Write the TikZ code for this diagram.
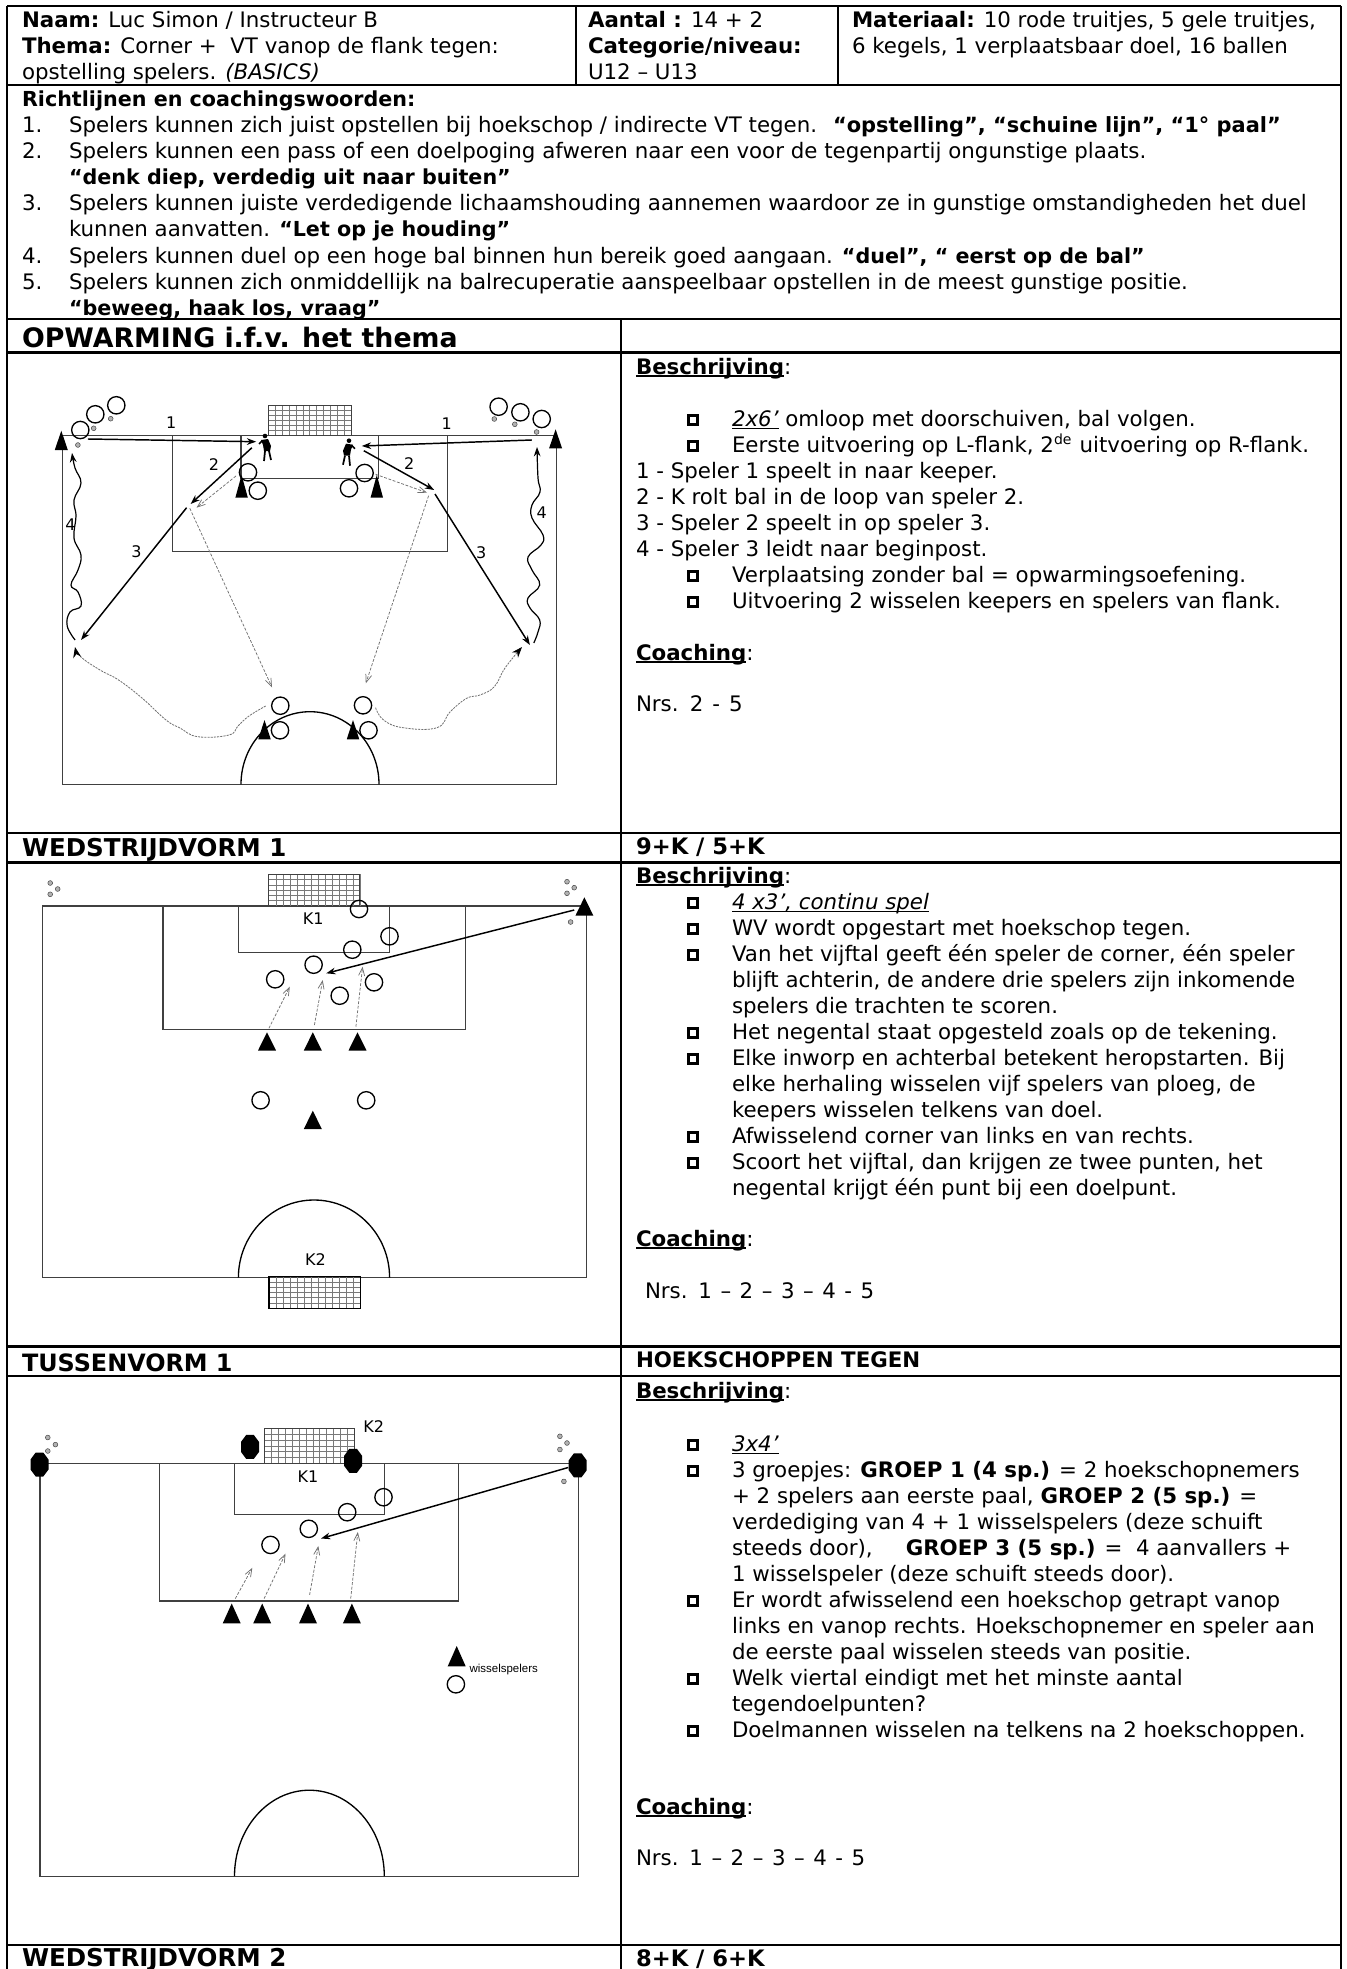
\documentclass[tikz,border=0pt]{standalone}
\usepackage{fontspec}
\setmainfont{DejaVu Sans}
\newfontfamily\smallfam{Liberation Sans}
\usetikzlibrary{arrows.meta}
\definecolor{fieldc}{HTML}{404040}
\definecolor{dashc}{HTML}{707070}
\newcounter{tn}
\newcommand{\bodysz}{\fontsize{16}{18}\selectfont}
\newcommand{\headsz}{\fontsize{20.1}{24}\selectfont}
\newcommand{\secsz}{\fontsize{18.4}{22}\selectfont}
\newcommand{\tussz}{\fontsize{17.9}{22}\selectfont}
\newcommand{\midsz}{\fontsize{17}{20}\selectfont}
\newcommand{\rb}[1]{{\fontsize{15.5}{18}\selectfont\bfseries #1}}
\newcommand{\ulb}[1]{\setbox0\hbox{\bfseries #1}\rlap{\rule[-2.1pt]{\wd0}{1.2pt}}\box0\relax}
\newcommand{\uli}[1]{\setbox0\hbox{\itshape #1}\rlap{\rule[-2pt]{\wd0}{.8pt}}\box0\relax}
\tikzset{
  txt/.style={anchor=base west,inner sep=0pt,outer sep=0pt,font=\bodysz,text=black},
  heading/.style={txt,font=\secsz\bfseries},
  lab/.style={anchor=center,inner sep=0pt,font=\fontsize{12}{14}\selectfont,text=black},
  bulbox/.style={draw=black,line width=2.2pt,fill=white,minimum width=7.4pt,minimum height=7.4pt,inner sep=0pt,anchor=center},
  plr/.style={circle,draw=black,line width=1pt,minimum size=13pt,inner sep=0pt,fill=none},
  rule/.style={draw=black,line width=1.6pt},
  pitch/.style={draw=fieldc,line width=1pt},
  arcl/.style={draw=black,line width=1pt},
  net/.style={draw=fieldc!70,line width=.45pt},
  pass/.style={draw=black,line width=1.1pt,-{Stealth[length=7pt,width=5pt]}},
  run/.style={draw=dashc,line width=.55pt,dash pattern=on 2.2pt off 1.2pt,-{Straight Barb[length=6pt,width=4.5pt]}},
  drib/.style={draw=black,line width=.9pt,-{Stealth[length=7pt,width=5pt]}},
  dribrun/.style={draw=dashc,line width=.6pt,dash pattern=on 1.6pt off .8pt,-{Stealth[length=8pt,width=6pt,color=black,fill=black]}},
  ball/.style={circle,draw=fieldc,line width=.35pt,minimum size=3.6pt,inner sep=0pt,fill=gray!60},
}
\newcommand{\tx}[4][]{\stepcounter{tn}\node[txt,#1] (t\arabic{tn}) at (#2,#3) {#4};}
\newcommand{\bl}[2]{\stepcounter{tn}\node[bulbox] (b\arabic{tn}) at (693,#1-6) {};\node[txt] (t\arabic{tn}) at (732,#1) {#2};}
\newcommand{\goalnet}[6]{% x1 y1 x2 y2 cols rows
  \foreach \i in {1,...,#5} \draw[net] ({#1+(#3-#1)*\i/#5},#2) -- ({#1+(#3-#1)*\i/#5},#4);
  \foreach \i in {1,...,#6} \draw[net] (#1,{#2+(#4-#2)*\i/#6}) -- (#3,{#2+(#4-#2)*\i/#6});
  \draw[net,draw=fieldc,line width=.7pt] (#1,#2) rectangle (#3,#4);}
\newcommand{\tri}[4]{\fill[black] ({#1-#4/2},#3) -- (#1,#2) -- ({#1+#4/2},#3) -- cycle;}
\newcommand{\octa}[2]{\fill[black,shift={(#1,#2)}] (-3.8,-12) -- (3.8,-12) -- (9,-5) -- (9,5) -- (3.8,12) -- (-3.8,12) -- (-9,5) -- (-9,-5) -- cycle;}
\newcommand{\keeper}[3]{\begin{scope}[shift={(#1,#2)},xscale=#3]
  \fill[black] (-1,-11) circle[radius=2.3];
  \fill[black] (-5,-7) -- (2,-8) -- (5,-1) -- (4,4) -- (-2,4) -- (-3,-2) -- cycle;
  \draw[black,line width=1.3pt] (-1,4) -- (-2,14) (3,4) -- (5,13);
  \draw[black,line width=1.2pt] (-4,-6) -- (-7,-3);
 \end{scope}}
\begin{document}
\begin{tikzpicture}[x=0.75pt,y=-0.75pt]
\useasboundingbox (0,0) rectangle (1346,1969);
\fill[white] (0,0) rectangle (1346,1969);

% ---- header
\tx{22}{28}{\textbf{Naam:} Luc Simon / Instructeur B}
\tx{22}{54}{\textbf{Thema:} Corner +\ \ VT vanop de flank tegen:}
\tx{22}{80}{opstelling spelers. \textit{(BASICS)}}
\tx{588}{28}{\textbf{Aantal :} 14 + 2}
\tx{588}{54}{\textbf{Categorie/niveau:}}
\tx{588}{80}{U12 – U13}
\tx{852}{28}{\textbf{Materiaal:} 10 rode truitjes, 5 gele truitjes,}
\tx{852}{54}{6 kegels, 1 verplaatsbaar doel, 16 ballen}

\tx{22}{107}{\rb{Richtlijnen en coachingswoorden:}}
\tx{22}{133}{1.}
\tx{69}{133}{Spelers kunnen zich juist opstellen bij hoekschop / indirecte VT tegen.}
\tx{833}{133}{{\fontsize{15.7}{18}\selectfont\bfseries “opstelling”, “schuine lijn”, “1° paal”}}
\tx{22}{159}{2.}
\tx{69}{159}{Spelers kunnen een pass of een doelpoging afweren naar een voor de tegenpartij ongunstige plaats.}
\tx{69}{185}{\rb{“denk diep, verdedig uit naar buiten”}}
\tx{22}{211}{3.}
\tx{69}{211}{Spelers kunnen juiste verdedigende lichaamshouding aannemen waardoor ze in gunstige omstandigheden het duel}
\tx{69}{237}{kunnen aanvatten. \rb{“Let op je houding”}}
\tx{22}{263}{4.}
\tx{69}{263}{Spelers kunnen duel op een hoge bal binnen hun bereik goed aangaan. \rb{“duel”, “ eerst op de bal”}}
\tx{22}{289}{5.}
\tx{69}{289}{Spelers kunnen zich onmiddellijk na balrecuperatie aanspeelbaar opstellen in de meest gunstige positie.}
\tx{69}{315}{\rb{“beweeg, haak los, vraag”}}

\tx[font=\headsz\bfseries]{22}{347}{OPWARMING i.f.v. het thema}
\tx[heading]{22}{856}{WEDSTRIJDVORM 1}
\tx[font=\tussz\bfseries]{22}{1371}{TUSSENVORM 1}
\tx[heading]{22}{1966}{WEDSTRIJDVORM 2}
\tx[font=\midsz\bfseries]{636}{854}{9+K / 5+K}
\tx[font=\bodysz\bfseries]{636}{1367}{HOEKSCHOPPEN TEGEN}
\tx[font=\midsz\bfseries]{636}{1966}{8+K / 6+K}

% ---- block 1
\tx{636}{374}{\ulb{Beschrijving}:}
\bl{426}{\uli{2x6’} omloop met doorschuiven, bal volgen.}
\bl{452}{Eerste uitvoering op L-flank, 2\raisebox{.62ex}{\fontsize{10.5}{11}\selectfont de}\hspace{.38em}uitvoering op R-flank.}
\tx{636}{478}{1 - Speler 1 speelt in naar keeper.}
\tx{636}{504}{2 - K rolt bal in de loop van speler 2.}
\tx{636}{530}{3 - Speler 2 speelt in op speler 3.}
\tx{636}{556}{4 - Speler 3 leidt naar beginpost.}
\bl{582}{Verplaatsing zonder bal = opwarmingsoefening.}
\bl{608}{Uitvoering 2 wisselen keepers en spelers van flank.}
\tx{636}{660}{\ulb{Coaching}:}
\tx{636}{711}{\spaceskip=.42em Nrs. 2 - 5}

% ---- block 2
\tx{636}{883}{\ulb{Beschrijving}:}
\bl{909}{\uli{4 x3’, continu spel}}
\bl{935}{WV wordt opgestart met hoekschop tegen.}
\bl{961}{Van het vijftal geeft één speler de corner, één speler}
\tx{732}{987}{blijft achterin, de andere drie spelers zijn inkomende}
\tx{732}{1013}{spelers die trachten te scoren.}
\bl{1039}{Het negental staat opgesteld zoals op de tekening.}
\bl{1065}{Elke inworp en achterbal betekent heropstarten. Bij}
\tx{732}{1091}{elke herhaling wisselen vijf spelers van ploeg, de}
\tx{732}{1117}{keepers wisselen telkens van doel.}
\bl{1143}{Afwisselend corner van links en van rechts.}
\bl{1169}{Scoort het vijftal, dan krijgen ze twee punten, het}
\tx{732}{1195}{negental krijgt één punt bij een doelpunt.}
\tx{636}{1246}{\ulb{Coaching}:}
\tx{645}{1298}{\spaceskip=.4em Nrs. 1 – 2 – 3 – 4 - 5}

% ---- block 3
\tx{636}{1398}{\ulb{Beschrijving}:}
\bl{1451}{\uli{3x4’}}
\bl{1477}{3 groepjes: \textbf{GROEP 1 (4 sp.)} = 2 hoekschopnemers}
\tx{732}{1503}{+ 2 spelers aan eerste paal, \textbf{GROEP 2 (5 sp.)} =}
\tx{732}{1529}{verdediging van 4 + 1 wisselspelers (deze schuift}
\tx{732}{1555}{steeds door),\hspace{1.55em}\textbf{GROEP 3 (5 sp.)} =\ \ 4 aanvallers +}
\tx{732}{1581}{1 wisselspeler (deze schuift steeds door).}
\bl{1607}{Er wordt afwisselend een hoekschop getrapt vanop}
\tx{732}{1633}{links en vanop rechts. Hoekschopnemer en speler aan}
\tx{732}{1659}{de eerste paal wisselen steeds van positie.}
\bl{1685}{Welk viertal eindigt met het minste aantal}
\tx{732}{1711}{tegendoelpunten?}
\bl{1737}{Doelmannen wisselen na telkens na 2 hoekschoppen.}
\tx{636}{1814}{\ulb{Coaching}:}
\tx{636}{1865}{\spaceskip=.4em Nrs. 1 – 2 – 3 – 4 - 5}

% ---- diagram 1
\draw[pitch] (62.5,435.3) -- (556.7,435.3) -- (556.7,784.3) -- (62.5,784.3) -- cycle;
\draw[pitch] (172.4,435.3) rectangle (447.2,551.3);
\draw[pitch] (241,435.3) rectangle (378.8,478.7);
\goalnet{268.5}{405.7}{351}{435.3}{12}{6}
\draw[arcl] (241,784.3) arc[start angle=180,end angle=360,x radius=69,y radius=72.6];
\foreach \n/\x/\y in {pa/80.3/430,pb/95.3/414.3,pc/116.3/405.3,pd/498.6/406.7,pe/520.4/412.3,pf/541.7/419,pg/248/472.3,ph/257.8/490.7,pi/364.6/473,pj/349/488.3,pk/280.3/705.7,pl/280/730.3,pm/363/705.3,pn/368.5/730.3}
  \node[plr] (\n) at (\x,\y) {};
\foreach \n/\x/\y in {ba/77.9/445,bb/93.7/428.3,bc/110.7/418.7,bd/494.3/419,be/514.8/424.3,bf/536.6/432}
  \node[ball] (\n) at (\x,\y) {};
\tri{61.3}{430.7}{450}{13}
\tri{555.6}{429.3}{448.3}{13}
\tri{241.6}{475}{497.7}{12.5}
\tri{376.8}{475}{497.7}{12.5}
\tri{264.5}{720}{739.3}{12.5}
\tri{353}{720}{739.3}{12.5}
\keeper{266}{447}{1}
\keeper{348}{451.7}{-1}
\node[lab] (l1) at (171.2,422.3) {1};
\node[lab] (l2) at (446.8,424) {1};
\node[lab] (l3) at (214,465) {2};
\node[lab] (l4) at (409.3,464) {2};
\node[lab] (l5) at (136.4,551.7) {3};
\node[lab] (l6) at (481.2,552.7) {3};
\node[lab] (l7) at (70.4,524.3) {4};
\node[lab] (l8) at (541.7,512.3) {4};
\coordinate (a1s) at (87.8,439); \coordinate (a1e) at (256.2,441.7);
\coordinate (a2s) at (531.8,440); \coordinate (a2e) at (361.8,446);
\coordinate (a3s) at (251.9,447.7); \coordinate (a3e) at (190.6,504);
\coordinate (a4s) at (363.8,450.7); \coordinate (a4e) at (434.2,490);
\coordinate (a5s) at (186.6,507.7); \coordinate (a5e) at (81,640);
\coordinate (a6s) at (435,494); \coordinate (a6e) at (529.9,645);
\coordinate (a7s) at (236,476); \coordinate (a7e) at (196.5,507.7);
\coordinate (a8s) at (375.6,474.3); \coordinate (a8e) at (427,492.7);
\coordinate (a9s) at (189.8,508.3); \coordinate (a9e) at (272,687.3);
\coordinate (a10s) at (428.6,495.7); \coordinate (a10e) at (365.8,683.3);
\draw[pass] (a1s) -- (a1e);
\draw[pass] (a2s) -- (a2e);
\draw[pass] (a3s) -- (a3e);
\draw[pass] (a4s) -- (a4e);
\draw[pass] (a5s) -- (a5e);
\draw[pass] (a6s) -- (a6e);
\draw[run] (a7s) -- (a7e);
\draw[run] (a8s) -- (a8e);
\draw[run] (a9s) -- (a9e);
\draw[run] (a10s) -- (a10e);
\draw[drib] plot[smooth,tension=.7] coordinates {(75.1,640) (67.2,626) (70,612) (81,606) (78,592) (71,585) (78,570) (81,555) (74,538) (76,516) (74,500) (81,483) (75,468) (72,453)};
\draw[drib] plot[smooth,tension=.7] coordinates {(533.8,643) (538,632) (539.7,620) (530,608) (528,598) (539.7,585) (532,570) (528,557) (541,545) (543,535) (532,518) (532,505) (540,492) (538,478) (537,447)};
\draw[dribrun] plot[smooth,tension=.7] coordinates {(265.7,706) (249,716) (238,726) (229,735) (197.7,736.7) (180,728) (166,720) (142,698) (118.6,680) (100,670) (81,657) (75,647)};
\draw[dribrun] plot[smooth,tension=.7] coordinates {(375.6,707.7) (383.5,720) (403,727.7) (437,727.7) (450,712) (466.6,698.3) (480,695) (494.3,686.7) (505,668) (522,647)};

% ---- diagram 2
\draw[pitch] (42.3,906) -- (586.4,906) -- (586.4,1277.7) -- (42.3,1277.7) -- cycle;
\draw[pitch] (162.9,906) rectangle (465.4,1029.7);
\draw[pitch] (238.4,906) rectangle (389.5,952.3);
\goalnet{268.9}{874.3}{359.8}{906}{13}{6}
\goalnet{268.9}{1276.7}{360.2}{1308.3}{13}{6}
\draw[black,line width=1pt] (268.9,1276.7) rectangle (360.2,1308.3);
\draw[arcl] (238.4,1277.7) arc[start angle=180,end angle=360,x radius=75.6,y radius=77.7];
\foreach \n/\x/\y in {qa/359/909,qb/389.5/936.3,qc/352.3/949.7,qd/313.6/964.7,qe/275.2/979.3,qf/339.7/995.7,qg/374/982.3,qh/260.6/1100.3,qi/366.2/1100.3}
  \node[plr] (\n) at (\x,\y) {};
\foreach \x in {267,312.8,357.5} {\tri{\x}{1032.3}{1050.5}{18}}
\tri{312.8}{1110.7}{1129}{18}
\tri{584.4}{897.3}{915.7}{18}
\foreach \n/\x/\y in {bg/50.2/883,bh/57.7/889,bi/50.2/894.3,bj/567/881.7,bk/574.2/887.7,bl/567/893.3,bm/570.6/922}
  \node[ball] (\n) at (\x,\y) {};
\node[lab] (k1) at (313.2,918.3) {K1};
\node[lab] (k2) at (315.5,1260) {K2};
\coordinate (c1s) at (574.2,910); \coordinate (c1e) at (326.2,973.3);
\coordinate (c2s) at (268.9,1028.3); \coordinate (c2e) at (289.8,986.7);
\coordinate (c3s) at (314.4,1025); \coordinate (c3e) at (322.7,980);
\coordinate (c4s) at (355.9,1026.7); \coordinate (c4e) at (362.6,966.7);
\draw[pass] (c1s) -- (c1e);
\draw[run] (c2s) -- (c2e);
\draw[run] (c3s) -- (c3e);
\draw[run] (c4s) -- (c4e);

% ---- diagram 3
\draw[pitch] (39.9,1463.4) -- (578.5,1463.4) -- (578.5,1876.2) -- (39.9,1876.2) -- cycle;
\draw[pitch] (159.4,1463.4) rectangle (458.7,1600.9);
\draw[pitch] (234.5,1463.4) rectangle (384.3,1514.5);
\goalnet{264.5}{1428.5}{354.3}{1463.4}{13}{6}
\draw[arcl] (234.5,1876.2) arc[start angle=180,end angle=360,x radius=74.9,y radius=86];
\octa{39.5}{1464.5}
\octa{250}{1446.9}
\octa{353.1}{1460.8}
\octa{577.7}{1465.3}
\foreach \n/\x/\y in {ra/383.5/1497.2,rb/347.2/1512.2,rc/308.8/1528.8,rd/270.5/1544.9,re/455.9/1684.3}
  \node[plr] (\n) at (\x,\y) {};
\foreach \x in {231.7,262.2,308,351.9} {\tri{\x}{1603.5}{1623.4}{18}}
\tri{456.7}{1646}{1666.3}{18}
\foreach \n/\x/\y in {bn/47.8/1437.5,bo/55.4/1444.6,bp/47.8/1451,bq/559.9/1436.3,br/567/1443,bs/559.9/1449.5,bt/563.9/1481.4}
  \node[ball] (\n) at (\x,\y) {};
\node[lab] (k3) at (373.7,1427) {K2};
\node[lab] (k4) at (308,1477) {K1};
\node[lab,anchor=west,font=\smallfam\fontsize{8.6}{10}\selectfont] (ws) at (469.4,1670) {wisselspelers};
\coordinate (d1s) at (568.2,1467.5); \coordinate (d1e) at (321,1538.5);
\coordinate (d2s) at (235.3,1598.6); \coordinate (d2e) at (252.3,1567.8);
\coordinate (d3s) at (264.1,1598.6); \coordinate (d3e) at (285.5,1553.6);
\coordinate (d4s) at (309.6,1594.9); \coordinate (d4e) at (318.3,1546);
\coordinate (d5s) at (350.7,1598.6); \coordinate (d5e) at (357.8,1532);
\draw[pass] (d1s) -- (d1e);
\draw[run] (d2s) -- (d2e);
\draw[run] (d3s) -- (d3e);
\draw[run] (d4s) -- (d4e);
\draw[run] (d5s) -- (d5e);

% ---- table rules
\draw[rule] (7,6) -- (1341,6);
\draw[rule] (7,6) -- (7,1969);
\draw[rule] (1341,6) -- (1341,1969);
\draw[rule] (7,85) -- (1341,85);
\draw[rule] (576,6) -- (576,85);
\draw[rule] (838,6) -- (838,85);
\draw[rule] (7,319) -- (1341,319);
\draw[rule] (7,352.5) -- (1341,352.5);
\draw[rule] (7,833) -- (1341,833);
\draw[rule] (7,862.5) -- (1341,862.5);
\draw[rule] (7,1346.5) -- (1341,1346.5);
\draw[rule] (7,1376) -- (1341,1376);
\draw[rule] (7,1945) -- (1341,1945);
\draw[rule] (621,319) -- (621,1969);
\end{tikzpicture}
\end{document}
